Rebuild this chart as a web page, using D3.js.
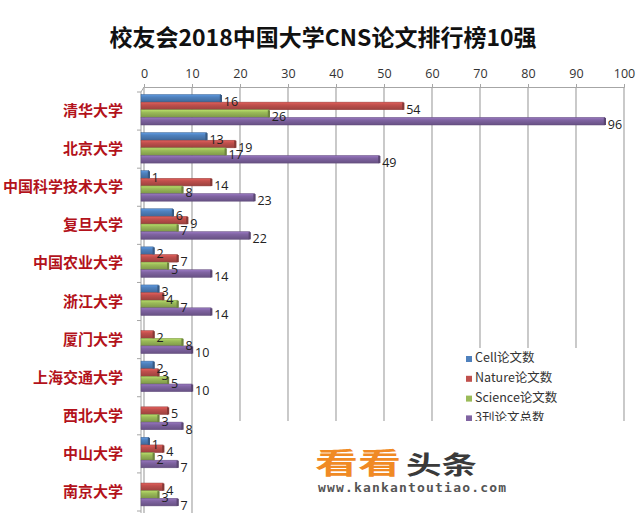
<!DOCTYPE html>
<html><head><meta charset="utf-8">
<script src="https://cdn.jsdelivr.net/npm/d3@7"></script>
<style>html,body{margin:0;padding:0;background:#fff;}svg{display:block;}</style>
</head><body>
<svg id="c" width="640" height="521"></svg>
<script>
const title = "校友会2018中国大学CNS论文排行榜10强";
const categories = ["清华大学","北京大学","中国科学技术大学","复旦大学","中国农业大学","浙江大学","厦门大学","上海交通大学","西北大学","中山大学","南京大学"];
const seriesNames = ["Cell论文数","Nature论文数","Science论文数","3刊论文总数"];
const cellValues    = [16,13,1,6,2,3,0,2,0,1,0];
const natureValues  = [54,19,14,9,7,4,2,3,5,4,4];
const scienceValues = [26,17,8,7,5,7,8,5,3,2,3];
const totalValues   = [96,49,23,22,14,14,10,10,8,7,7];
const xTicks = [0,10,20,30,40,50,60,70,80,90,100];
const colors = ["#4F81BD","#C0504D","#9BBB59","#8064A2"];

const seriesValues = [cellValues, natureValues, scienceValues, totalValues];
const svg = d3.select("#c");
const font = "'Noto Sans CJK SC','Noto Sans',sans-serif";

const x = d3.scaleLinear().domain([0,100]).range([144,624]);
const y = d3.scaleBand().domain(categories).range([92,511]).paddingInner(0);
const ys = d3.scaleBand().domain(seriesNames).range([2.5,33]);

// gradients
const defs = svg.append("defs");
colors.forEach((c,i)=>{
  const g = defs.append("linearGradient").attr("id","g"+i).attr("x1",0).attr("y1",0).attr("x2",0).attr("y2",1);
  g.append("stop").attr("offset","0%").attr("stop-color",d3.color(c).brighter(0.5));
  g.append("stop").attr("offset","35%").attr("stop-color",c);
  g.append("stop").attr("offset","100%").attr("stop-color",d3.color(c).darker(0.6));
});

// title
svg.append("text").attr("x",323).attr("y",46).attr("text-anchor","middle")
  .attr("font-family",font).attr("font-weight","bold").attr("font-size",23).attr("fill","#111").text(title);

// gridlines
svg.append("g").selectAll("line").data(xTicks).join("line")
  .attr("x1",d=>x(d)).attr("x2",d=>x(d)).attr("y1",87).attr("y2",513)
  .attr("stroke","#A6A6A6").attr("stroke-width",1.2);

// top axis
const xAxis = d3.axisTop(x).tickValues(xTicks).tickSize(3).tickPadding(6);
const ax = svg.append("g").attr("transform","translate(0,87)").call(xAxis);
ax.select(".domain").attr("stroke","#A6A6A6");
ax.selectAll(".tick line").attr("stroke","#A6A6A6");
ax.selectAll("text").attr("font-family","'Open Sans',sans-serif").attr("font-size",12.5).attr("fill","#333");

// left wall axis
svg.append("line").attr("x1",141).attr("x2",141).attr("y1",92).attr("y2",513).attr("stroke","#A6A6A6");
svg.append("line").attr("x1",141).attr("x2",144).attr("y1",92).attr("y2",87).attr("stroke","#A6A6A6");
svg.append("g").selectAll("line").data(categories).join("line")
  .attr("x1",137).attr("x2",141).attr("y1",d=>y(d)).attr("y2",d=>y(d)).attr("stroke","#A6A6A6");
svg.append("line").attr("x1",137).attr("x2",141).attr("y1",511).attr("y2",511).attr("stroke","#A6A6A6");

// category labels
svg.append("g").selectAll("text").data(categories).join("text")
  .attr("x",123).attr("y",d=>y(d)+y.bandwidth()/2+1)
  .attr("text-anchor","end").attr("dominant-baseline","middle")
  .attr("font-family",font).attr("font-weight","bold").attr("font-size",15).attr("fill","#B3121B")
  .text(d=>d);

// bars
const rows = [];
categories.forEach((c,ci)=>seriesNames.forEach((s,si)=>rows.push({c,s,si,v:seriesValues[si][ci]})));
const bars = svg.append("g");
const bh = ys.bandwidth();
bars.selectAll("rect.bar").data(rows.filter(d=>d.v>0)).join("rect").attr("class","bar")
  .attr("x",141).attr("y",d=>y(d.c)+ys(d.s))
  .attr("width",d=>x(d.v)-141).attr("height",bh)
  .attr("fill",d=>"url(#g"+d.si+")")
  .attr("stroke",d=>d3.color(colors[d.si]).darker(0.8)).attr("stroke-width",0.5);
// end caps
bars.selectAll("rect.cap").data(rows.filter(d=>d.v>0)).join("rect").attr("class","cap")
  .attr("x",d=>x(d.v)-1).attr("y",d=>y(d.c)+ys(d.s)+0.5)
  .attr("width",2.2).attr("height",bh-0.5)
  .attr("fill",d=>d3.color(colors[d.si]).darker(1));

// value labels
svg.append("g").selectAll("text").data(rows.filter(d=>d.v>0)).join("text")
  .attr("x",d=>x(d.v)+3).attr("y",d=>y(d.c)+ys(d.s)+bh+0.5)
  .attr("dominant-baseline","middle")
  .attr("font-family","'Open Sans',sans-serif").attr("font-size",12.5).attr("fill","#222")
  .text(d=>d.v);

// legend
const lg = svg.append("g");
lg.append("rect").attr("x",462).attr("y",348).attr("width",140).attr("height",80).attr("fill","#fff");
const li = lg.selectAll("g").data(seriesNames).join("g")
  .attr("transform",(d,i)=>`translate(466,${359+i*19.8})`);
li.append("rect").attr("x",0).attr("y",-3).attr("width",6).attr("height",6).attr("fill",(d,i)=>colors[i]);
li.append("text").attr("x",9).attr("y",0).attr("dominant-baseline","middle")
  .attr("font-family",font).attr("font-size",12.5).attr("fill","#333").text(d=>d);

// white overlay with watermark
svg.append("rect").attr("x",214).attr("y",421).attr("width",426).attr("height",100).attr("fill","#fff");
const wm = svg.append("g");
wm.append("text").attr("x",315).attr("y",474).attr("font-family",font).attr("font-weight","bold")
  .attr("font-size",29).attr("fill","#F08A24").attr("textLength",86).attr("lengthAdjust","spacingAndGlyphs").text("看看");
wm.append("text").attr("x",406).attr("y",474).attr("font-family",font).attr("font-weight","bold")
  .attr("font-size",25).attr("fill","#3a3a3a").attr("textLength",71).attr("lengthAdjust","spacingAndGlyphs").text("头条");
wm.append("text").attr("x",318).attr("y",492).attr("font-family","'DejaVu Sans Mono',monospace").attr("font-weight","bold")
  .attr("font-size",13).attr("fill","#555").attr("textLength",188).text("www.kankantoutiao.com");
</script>
</body></html>
